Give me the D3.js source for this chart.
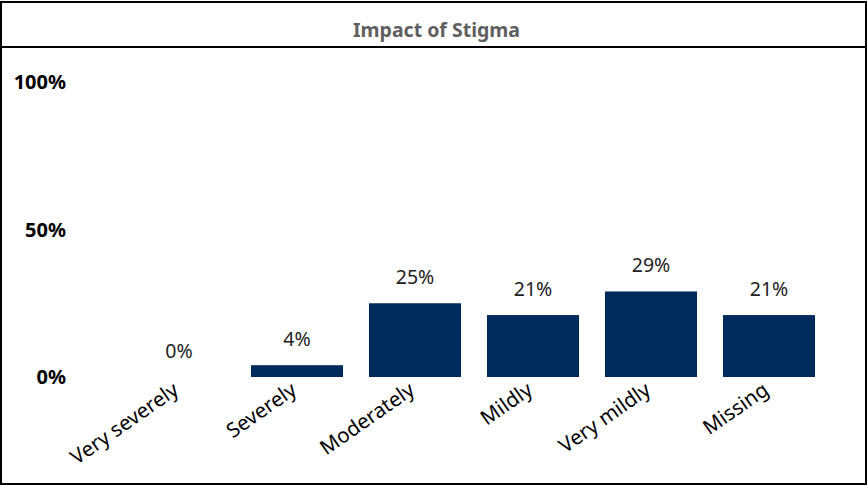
<!DOCTYPE html>
<html>
<head>
<meta charset="utf-8">
<script src="https://cdn.jsdelivr.net/npm/d3@7"></script>
<style>
  body { margin: 0; background: #fff; }
  text { font-family: "Noto Sans", "Open Sans", sans-serif; }
</style>
</head>
<body>
<div id="chart"></div>
<script>
var width = 867,
    height = 486;

var categories = ["Very severely", "Severely", "Moderately", "Mildly", "Very mildly", "Missing"];
var values = [0, 4, 25, 21, 29, 21];
var yTicks = [0, 50, 100];

var svg = d3.select("#chart").append("svg")
    .attr("width", width)
    .attr("height", height);

// frame and title band
svg.append("rect")
    .attr("x", 1).attr("y", 2)
    .attr("width", width - 2).attr("height", height - 4)
    .attr("fill", "none").attr("stroke", "#000").attr("stroke-width", 2);
svg.append("line")
    .attr("x1", 0).attr("x2", width)
    .attr("y1", 47).attr("y2", 47)
    .attr("stroke", "#000").attr("stroke-width", 2);

svg.append("text")
    .attr("x", width / 2 + 3).attr("y", 37)
    .attr("text-anchor", "middle")
    .attr("font-size", 19.5).attr("font-weight", "bold")
    .attr("fill", "#5f5f5f")
    .text("Impact of Stigma");

var x = d3.scaleBand()
    .domain(categories)
    .range([120, 828])
    .paddingInner(0.22)
    .paddingOuter(0.11);

var y = d3.scaleLinear()
    .domain([0, 100])
    .range([377, 82]);

// y labels
svg.selectAll("text.ytick")
    .data(yTicks)
  .enter().append("text")
    .attr("class", "ytick")
    .attr("x", 66)
    .attr("y", function(d) { return y(d); })
    .attr("dy", "0.35em")
    .attr("text-anchor", "end")
    .attr("font-size", 20).attr("font-weight", "bold")
    .attr("fill", "#000")
    .text(function(d) { return d + "%"; });

svg.selectAll("rect.bar")
    .data(values)
  .enter().append("rect")
    .attr("class", "bar")
    .attr("x", function(d, i) { return x(categories[i]); })
    .attr("y", function(d) { return y(d); })
    .attr("width", x.bandwidth())
    .attr("height", function(d) { return y(0) - y(d); })
    .attr("fill", "#002B5C");

svg.selectAll("text.val")
    .data(values)
  .enter().append("text")
    .attr("class", "val")
    .attr("x", function(d, i) { return x(categories[i]) + x.bandwidth() / 2; })
    .attr("y", function(d) { return y(d) - 19; })
    .attr("text-anchor", "middle")
    .attr("font-size", 19.5)
    .attr("fill", "#222")
    .text(function(d) { return d + "%"; });

svg.selectAll("text.cat")
    .data(categories)
  .enter().append("text")
    .attr("class", "cat")
    .attr("transform", function(d) {
      return "translate(" + (x(d) + x.bandwidth() / 2 + 1) + ",393)rotate(-35)";
    })
    .attr("text-anchor", "end")
    .attr("font-size", 20.5)
    .attr("fill", "#000")
    .text(function(d) { return d; });
</script>
</body>
</html>
